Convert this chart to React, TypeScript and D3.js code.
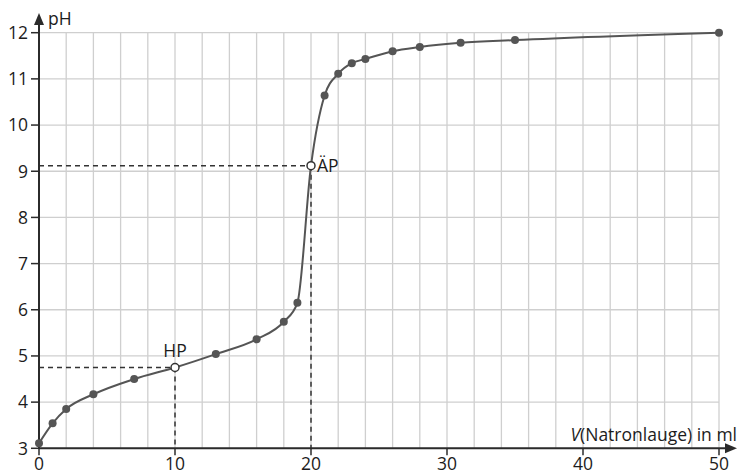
import React from "react";
import * as d3 from "d3";

const volumes = [0, 1, 2, 4, 7, 10, 13, 16, 18, 19, 20, 21, 22, 23, 24, 26, 28, 31, 35, 50];
const phValues = [3.11, 3.54, 3.85, 4.17, 4.5, 4.75, 5.04, 5.36, 5.74, 6.15, 9.12, 10.64, 11.11, 11.34, 11.43, 11.6, 11.69, 11.78, 11.84, 12.0];
const openPoints = [
  { v: 10, ph: 4.75, label: "HP" },
  { v: 20, ph: 9.12, label: "ÄP" },
];
const xTicks = [0, 10, 20, 30, 40, 50];
const yTicks = [3, 4, 5, 6, 7, 8, 9, 10, 11, 12];
const xGrid = d3.range(0, 51, 2);

const W = 738;
const H = 474;
const FONT = "'Open Sans', 'Noto Sans', sans-serif";

export default function App() {
  const x = d3.scaleLinear().domain([0, 50]).range([39, 719]);
  const y = d3.scaleLinear().domain([3, 12]).range([448.3, 32.7]);
  const pts: [number, number][] = volumes.map((v, i) => [x(v), y(phValues[i])]);
  const line = d3.line().curve(d3.curveMonotoneX)(pts) || "";
  const axisColor = "#2b2b2b";
  const gridColor = "#cfcfcf";
  const curveColor = "#555";
  const textColor = "#1c1c1c";
  const fs = 17.5;
  return (
    <svg width={W} height={H} style={{ position: "absolute", left: 0, top: 0 }} fontFamily={FONT}>
      <rect width={W} height={H} fill="#fff" />
      {/* grid */}
      {xGrid.map((v) => (
        <line key={"gx" + v} x1={x(v)} x2={x(v)} y1={y(3)} y2={y(12)} stroke={gridColor} strokeWidth={1.3} />
      ))}
      {yTicks.map((t) => (
        <line key={"gy" + t} x1={x(0)} x2={x(50)} y1={y(t)} y2={y(t)} stroke={gridColor} strokeWidth={1.3} />
      ))}
      {/* dashed guides */}
      {openPoints.map((p) => (
        <g key={"d" + p.label} stroke="#333" strokeWidth={1.5} strokeDasharray="5,4" fill="none">
          <line x1={x(0)} x2={x(p.v)} y1={y(p.ph)} y2={y(p.ph)} />
          <line x1={x(p.v)} x2={x(p.v)} y1={y(p.ph)} y2={y(3)} />
        </g>
      ))}
      {/* axes */}
      <line x1={x(0)} x2={x(0)} y1={y(3)} y2={22} stroke={axisColor} strokeWidth={2} />
      <path d={`M${x(0) - 5},25 L${x(0)},13 L${x(0) + 5},25 Z`} fill={axisColor} />
      <line x1={x(0)} x2={728} y1={y(3)} y2={y(3)} stroke={axisColor} strokeWidth={2} />
      <path d={`M725,${y(3) - 5} L737,${y(3)} L725,${y(3) + 5} Z`} fill={axisColor} />
      {yTicks.map((t) => (
        <g key={"yt" + t}>
          <line x1={x(0) - 8} x2={x(0)} y1={y(t)} y2={y(t)} stroke={axisColor} strokeWidth={1.5} />
          <text x={28} y={y(t)} dy="0.36em" textAnchor="end" fontSize={fs} fill={textColor}>{t}</text>
        </g>
      ))}
      {xTicks.map((t) => (
        <g key={"xt" + t}>
          <line x1={x(t)} x2={x(t)} y1={y(3)} y2={y(3) + 7} stroke={axisColor} strokeWidth={1.5} />
          <text x={x(t)} y={470} textAnchor="middle" fontSize={fs} fill={textColor}>{t}</text>
        </g>
      ))}
      <text x={48} y={25} fontSize={fs} fill={textColor}>pH</text>
      <text x={737} y={441} textAnchor="end" fontSize={fs} fill={textColor}>
        <tspan fontStyle="italic">V</tspan>(Natronlauge) in ml
      </text>
      {/* curve */}
      <path d={line} fill="none" stroke={curveColor} strokeWidth={2} />
      {volumes.map((v, i) =>
        openPoints.some((p) => p.v === v) ? null : (
          <circle key={"p" + v} cx={x(v)} cy={y(phValues[i])} r={4} fill={curveColor} />
        )
      )}
      {openPoints.map((p) => (
        <circle key={"o" + p.label} cx={x(p.v)} cy={y(p.ph)} r={4} fill="#fff" stroke="#333" strokeWidth={1.5} />
      ))}
      <text x={x(10)} y={357} textAnchor="middle" fontSize={fs} fill={textColor}>HP</text>
      <text x={x(20) + 6} y={y(9.12)} dy="0.36em" fontSize={fs} fill={textColor}>ÄP</text>
    </svg>
  );
}
